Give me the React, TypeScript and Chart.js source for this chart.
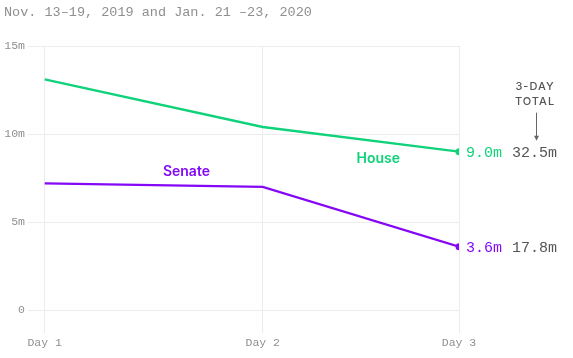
import React, { useEffect, useRef } from "react";
import { Chart, registerables } from "chart.js";
Chart.register(...registerables);

const title = "Nov. 13–19, 2019 and Jan. 21 –23, 2020";
const days = ["Day 1", "Day 2", "Day 3"];
const dayPositions = [1, 2, 2.9];
const house = [13.1, 10.4, 9.0];
const senate = [7.2, 7.0, 3.6];
const yTicks = [0, 5, 10, 15];
const seriesNames = ["House", "Senate"];
// label anchor positions in data space
const nameAnchors = [
  { x: 2.53, y: 8.6 },
  { x: 1.65, y: 7.87 },
];

const GREEN = "#0fd27a";
const PURPLE = "#8408f5";
const MONO = "'Liberation Mono', 'DejaVu Sans Mono', monospace";
const SANS = "Inter, 'Noto Sans', sans-serif";

const annotate = {
  id: "annotate",
  afterDraw(chart: any) {
    const ctx = chart.ctx;
    const xs = chart.scales.x;
    const ys = chart.scales.y;
    ctx.save();
    // title
    ctx.font = `13.5px ${MONO}`;
    ctx.fillStyle = "#8f8f8f";
    ctx.textBaseline = "middle";
    ctx.textAlign = "left";
    ctx.fillText(title, 4, 12);

    const colors = [GREEN, PURPLE];
    const series = [house, senate];
    let houseY = 0;
    series.forEach((data, i) => {
      const meta = chart.getDatasetMeta(i);
      const pt = meta.data[meta.data.length - 1];
      if (i === 0) houseY = pt.y;
      ctx.font = `15px ${MONO}`;
      ctx.textAlign = "left";
      ctx.textBaseline = "middle";
      ctx.fillStyle = colors[i];
      ctx.fillText(data[data.length - 1].toFixed(1) + "m", pt.x + 7, pt.y + 1);
      const total = data.reduce((a, b) => a + b, 0);
      ctx.fillStyle = "#555";
      ctx.fillText(total.toFixed(1) + "m", pt.x + 53, pt.y + 1);
      // series name
      ctx.font = `600 14px ${SANS}`;
      ctx.textAlign = "center";
      ctx.fillStyle = colors[i];
      ctx.fillText(
        seriesNames[i],
        xs.getPixelForValue(nameAnchors[i].x),
        ys.getPixelForValue(nameAnchors[i].y)
      );
    });

    // 3-DAY TOTAL header
    const cx = chart.chartArea.right + 75;
    ctx.font = `500 11px ${SANS}`;
    ctx.fillStyle = "#555";
    ctx.textAlign = "center";
    ctx.textBaseline = "middle";
    (ctx as any).letterSpacing = "1px";
    ctx.fillText("3-DAY", cx + 1, houseY - 65);
    ctx.fillText("TOTAL", cx + 1, houseY - 50);
    (ctx as any).letterSpacing = "0px";
    ctx.strokeStyle = "#666";
    ctx.lineWidth = 1;
    ctx.beginPath();
    ctx.moveTo(cx + 2.5, houseY - 39);
    ctx.lineTo(cx + 2.5, houseY - 13);
    ctx.stroke();
    ctx.fillStyle = "#666";
    ctx.beginPath();
    ctx.moveTo(cx, houseY - 16);
    ctx.lineTo(cx + 5, houseY - 16);
    ctx.lineTo(cx + 2.5, houseY - 11);
    ctx.closePath();
    ctx.fill();
    ctx.restore();
  },
};

export default function App() {
  const ref = useRef<HTMLCanvasElement>(null);
  useEffect(() => {
    if (!ref.current) return;
    const mk = (data: number[], color: string) => ({
      data: data.map((v, i) => ({ x: dayPositions[i], y: v })),
      borderColor: color,
      backgroundColor: color,
      borderWidth: 2.3,
      pointRadius: data.map((_, i) => (i === data.length - 1 ? 3.5 : 0)),
      pointBorderWidth: 0,
      tension: 0,
    });
    const chart = new Chart(ref.current, {
      type: "line",
      data: {
        datasets: [mk(house, GREEN), mk(senate, PURPLE)],
      },
      options: {
        animation: false,
        responsive: false,
        layout: { padding: { top: 46, right: 114, left: 0, bottom: 0 } },
        plugins: { legend: { display: false }, tooltip: { enabled: false } },
        scales: {
          x: {
            type: "linear",
            min: 0.96,
            max: 2.9,
            afterBuildTicks: (s: any) => {
              s.ticks = dayPositions.map((v) => ({ value: v }));
            },
            afterFit: (s: any) => {
              s.height = 25;
            },
            grid: { color: "#ececec", drawTicks: false },
            border: { display: false },
            ticks: {
              padding: 3,
              maxRotation: 0,
              autoSkip: false,
              color: "#8f8f8f",
              font: { family: MONO, size: 11.5 },
              callback: (_v: any, i: number) => days[i],
            },
          },
          y: {
            min: -1.3,
            max: 15,
            afterBuildTicks: (s: any) => {
              s.ticks = yTicks.map((v) => ({ value: v }));
            },
            afterFit: (s: any) => {
              s.width = 36;
            },
            grid: { color: "#ececec", tickLength: 8 },
            border: { display: false },
            ticks: {
              padding: 3,
              color: "#8f8f8f",
              font: { family: MONO, size: 11.5 },
              callback: (v: any) => (v === 0 ? "0" : v + "m"),
            },
          },
        },
      },
      plugins: [annotate],
    } as any);
    return () => chart.destroy();
  }, []);
  return (
    <div style={{ position: "fixed", left: 0, top: 0, width: 573, height: 358, background: "#fff" }}>
      <canvas ref={ref} width={573} height={358} style={{ display: "block" }} />
    </div>
  );
}
